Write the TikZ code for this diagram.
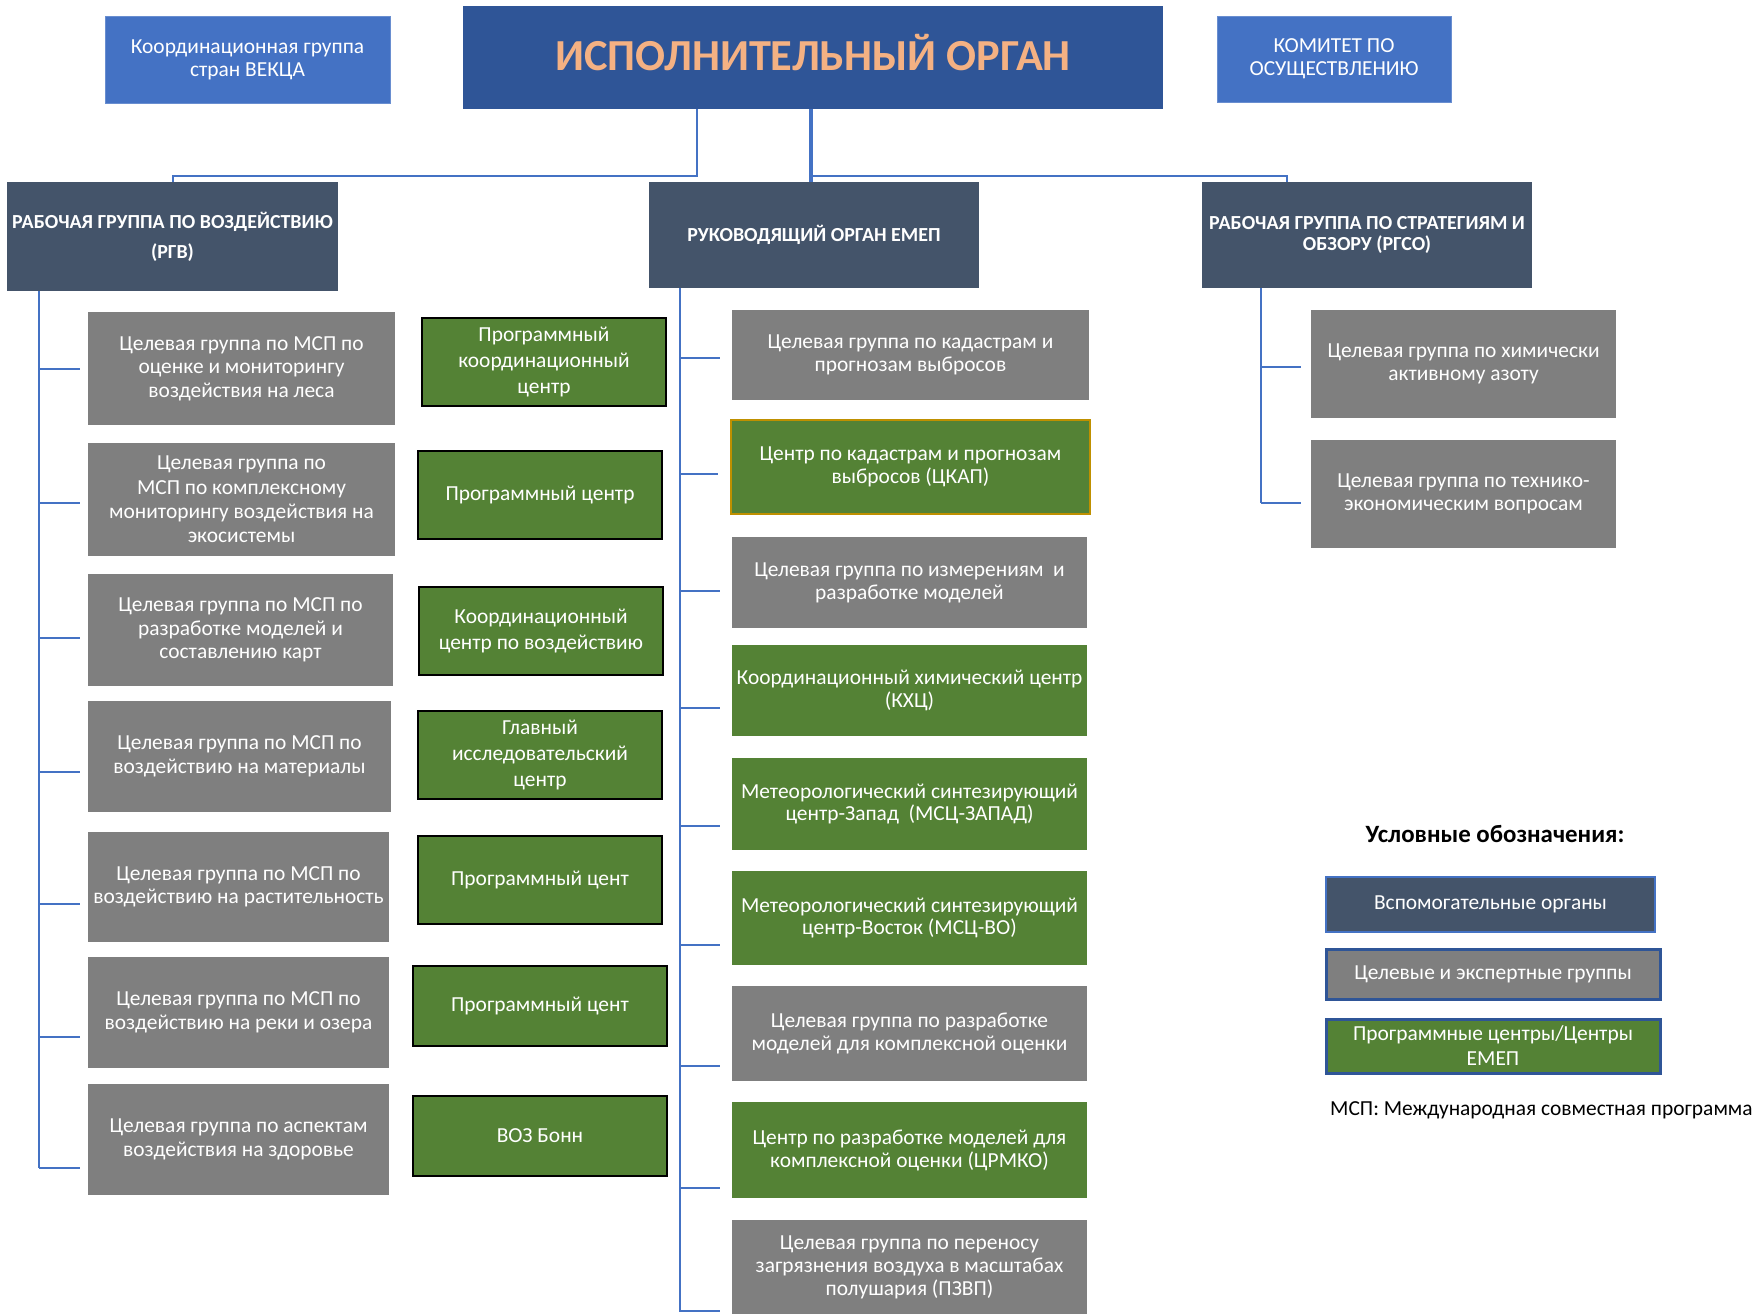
\documentclass[tikz,border=0pt]{standalone}
\usepackage{fontspec}
\setmainfont{Carlito}
\definecolor{execblue}{HTML}{2F5597}
\definecolor{midblue}{HTML}{4472C4}
\definecolor{slate}{HTML}{44546A}
\definecolor{boxgrey}{HTML}{7F7F7F}
\definecolor{boxgreen}{HTML}{548235}
\definecolor{gold}{HTML}{BF9000}
\definecolor{titleorange}{HTML}{F4B183}
\definecolor{lineblue}{HTML}{4472C4}
\newcommand\mybox[7]{\node[#6, minimum width={(#4-#2)*1bp}, minimum height={(#5-#3)*1bp}] (#1) at ({(#2+#4)/2},{(#3+#5)/2}) {#7};}
\begin{document}
\begin{tikzpicture}[x=1bp,y=-1bp,
  base/.style={rectangle, inner sep=0pt, align=center, text=white},
  topbox/.style={base, fill=midblue, draw=midblue!80!white, line width=0.8bp, font=\fontsize{21.5}{23}\selectfont},
  execbox/.style={base, fill=execblue, text=titleorange, text depth=11bp, font=\fontsize{44.5}{50}\selectfont\bfseries},
  headbox/.style={base, fill=slate, font=\fontsize{20}{21.5}\selectfont\bfseries},
  greybox/.style={base, fill=boxgrey, font=\fontsize{21.5}{23.5}\selectfont},
  greenbox/.style={base, fill=boxgreen, draw=black, line width=2.2bp, font=\fontsize{21.5}{26}\selectfont},
  greenmid/.style={base, fill=boxgreen, font=\fontsize{21.5}{23}\selectfont},
  greymid/.style={base, fill=boxgrey, font=\fontsize{21.5}{23}\selectfont},
  conn/.style={draw=lineblue, line width=2.6bp},
  legtext/.style={inner sep=0pt, text=black}
]
\useasboundingbox (0,0) rectangle (1754,1314);

% top row
\mybox{coord}{105}{16}{390}{103}{topbox}{Координационная группа\\стран ВЕКЦА}
\mybox{exec}{463}{6}{1163}{109}{execbox}{ИСПОЛНИТЕЛЬНЫЙ ОРГАН}
\mybox{komitet}{1217}{16}{1451}{102}{topbox}{КОМИТЕТ ПО\\ОСУЩЕСТВЛЕНИЮ}

% headers
\mybox{rgv}{7}{182}{338}{291}{headbox,font=\fontsize{20}{30}\selectfont\bfseries}{РАБОЧАЯ ГРУППА ПО ВОЗДЕЙСТВИЮ\\(РГВ)}
\mybox{ruk}{649}{182}{979}{288}{headbox}{РУКОВОДЯЩИЙ ОРГАН ЕМЕП}
\mybox{rgso}{1202}{182}{1532}{288}{headbox}{РАБОЧАЯ ГРУППА ПО СТРАТЕГИЯМ И\\ОБЗОРУ (РГСО)}

% top connectors
\coordinate (j1) at (697,176);
\coordinate (j2) at (811,176);
\coordinate (j3) at (1287,176);
\draw[conn, line width=2bp] (exec.south -| j1) -- (j1) -- (j1 -| rgv.north) -- (rgv.north);
\draw[conn, line width=3.6bp] (exec.south -| j2) -- (ruk.north -| j2);
\draw[conn] (j2) -- (j3) -- (j3 |- rgso.north);

% left column (RGV)
\mybox{L1}{88}{312}{395}{425}{greybox}{Целевая группа по МСП по\\оценке и мониторингу\\воздействия на леса}
\mybox{L2}{88}{443}{395}{556}{greybox, font=\fontsize{21.5}{24.5}\selectfont}{Целевая группа по\\МСП по комплексному\\мониторингу воздействия на\\экосистемы}
\mybox{L3}{88}{574}{393}{686}{greybox}{Целевая группа по МСП по\\разработке моделей и\\составлению карт}
\mybox{L4}{88}{701}{391}{812}{greybox}{Целевая группа по МСП по\\воздействию на материалы}
\mybox{L5}{88}{832}{389}{942}{greybox}{Целевая группа по МСП по\\воздействию на растительность}
\mybox{L6}{88}{957}{389}{1068}{greybox}{Целевая группа по МСП по\\воздействию на реки и озера}
\mybox{L7}{88}{1084}{389}{1195}{greybox}{Целевая группа по аспектам\\воздействия на здоровье}

\coordinate (sL) at (39,0);
\draw[conn] (rgv.south -| sL) -- (sL |- 0,1168);
\foreach \n/\y in {L1/369,L2/503,L3/638,L4/772,L5/904,L6/1037,L7/1168}
  \draw[conn, shorten >=8bp] (sL |- 0,\y) -- (\n.west |- 0,\y);

% green program centres
\mybox{G1}{422}{318}{666}{406}{greenbox}{Программный\\координационный\\центр}
\mybox{G2}{418}{451}{662}{539}{greenbox}{Программный центр}
\mybox{G3}{419}{587}{663}{675}{greenbox}{Координационный\\центр по воздействию}
\mybox{G4}{418}{711}{662}{799}{greenbox}{Главный\\исследовательский\\центр}
\mybox{G5}{418}{836}{662}{924}{greenbox}{Программный цент}
\mybox{G6}{413}{966}{667}{1046}{greenbox}{Программный цент}
\mybox{G7}{413}{1096}{667}{1176}{greenbox}{ВОЗ Бонн}

% middle column (EMEP)
\mybox{M1}{732}{310}{1089}{400}{greymid}{Целевая группа по кадастрам и\\прогнозам выбросов}
\mybox{M2}{731}{420}{1090}{514}{greenmid, draw=gold, line width=2.6bp}{Центр по кадастрам и прогнозам\\выбросов (ЦКАП)}
\mybox{M3}{732}{537}{1087}{628}{greymid}{Целевая группа по измерениям\ \ и\\разработке моделей}
\mybox{M4}{732}{645}{1087}{736}{greenmid}{Координационный химический центр\\(КХЦ)}
\mybox{M5}{732}{758}{1087}{850}{greenmid}{Метеорологический синтезирующий\\центр-Запад\ \ (МСЦ-ЗАПАД)}
\mybox{M6}{732}{871}{1087}{965}{greenmid}{Метеорологический синтезирующий\\центр-Восток (МСЦ-ВО)}
\mybox{M7}{732}{986}{1087}{1081}{greymid}{Целевая группа по разработке\\моделей для комплексной оценки}
\mybox{M8}{732}{1102}{1087}{1198}{greenmid}{Центр по разработке моделей для\\комплексной оценки (ЦРМКО)}
\mybox{M9}{732}{1220}{1087}{1314}{greymid}{Целевая группа по переносу\\загрязнения воздуха в масштабах\\полушария (ПЗВП)}

\coordinate (sM) at (680,0);
\draw[conn] (ruk.south -| sM) -- (sM |- 0,1312);
\foreach \n/\y in {M1/358,M2/474,M3/591,M4/708,M5/826,M6/945,M7/1066,M8/1188,M9/1311}
  \draw[conn, shorten >=12bp] (sM |- 0,\y) -- (\n.west |- 0,\y);

% right column (RGSO)
\mybox{R1}{1311}{310}{1616}{418}{greymid}{Целевая группа по химически\\активному азоту}
\mybox{R2}{1311}{440}{1616}{548}{greymid}{Целевая группа по технико-\\экономическим вопросам}
\coordinate (sR) at (1261,0);
\draw[conn] (rgso.south -| sR) -- (sR |- 0,503);
\foreach \n/\y in {R1/367,R2/503}
  \draw[conn, shorten >=10bp] (sR |- 0,\y) -- (\n.west |- 0,\y);

% legend
\node[legtext, font=\fontsize{25}{28}\selectfont\bfseries] (legtitle) at (1495,834) {Условные обозначения:};
\mybox{LB1}{1326}{877}{1655}{932}{greymid, fill=slate, draw=midblue, line width=2bp}{Вспомогательные органы}
\mybox{LB2}{1326}{949}{1660}{999}{greymid, draw=execblue, line width=3bp}{Целевые и экспертные группы}
\mybox{LB3}{1326}{1019}{1660}{1073}{greenmid, draw=execblue, line width=3bp, font=\fontsize{21.5}{25}\selectfont}{Программные центры/Центры\\ЕМЕП}
\node[legtext, anchor=west, font=\fontsize{21.5}{24}\selectfont] (note) at (1330,1110) {МСП: Международная совместная программа};

\end{tikzpicture}
\end{document}
